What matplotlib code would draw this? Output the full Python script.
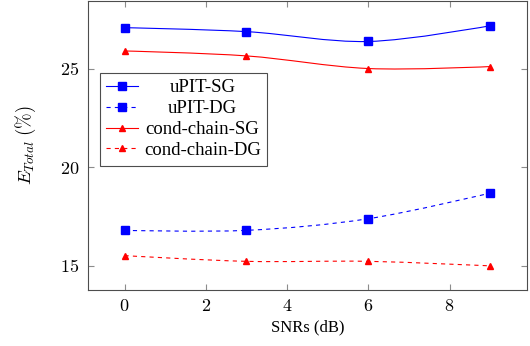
import numpy as np
import matplotlib
matplotlib.use("Agg")
import matplotlib.pyplot as plt
from matplotlib.path import Path
from matplotlib.patches import PathPatch
from matplotlib.lines import Line2D
from matplotlib.transforms import Affine2D

# values
snr = [0, 3, 6, 9]
upit_sg = [27.07, 26.87, 26.37, 27.17]
upit_dg = [16.80, 16.80, 17.39, 18.69]
chain_sg = [25.89, 25.64, 25.00, 25.10]
chain_dg = [15.52, 15.23, 15.23, 15.00]
labels = ["uPIT-SG", "uPIT-DG", "cond-chain-SG", "cond-chain-DG"]

plt.rcParams['font.family'] = ['Liberation Serif', 'DejaVu Serif']
plt.rcParams['mathtext.fontset'] = 'cm'
plt.rcParams['lines.scale_dashes'] = False


def smooth_path(x, y, f=1 / 6):
    # pgfplots-like "smooth": cubic bezier through the points
    p = np.column_stack([x, y]).astype(float)
    n = len(p)
    verts = [p[0]]
    codes = [Path.MOVETO]
    for i in range(n - 1):
        t0 = (p[i + 1] - p[i - 1]) * f if i > 0 else np.zeros(2)
        t1 = (p[i + 2] - p[i]) * f if i + 2 < n else np.zeros(2)
        verts += [p[i] + t0, p[i + 1] - t1, p[i + 1]]
        codes += [Path.CURVE4] * 3
    return Path(verts, codes)


fig = plt.figure(figsize=(5.3, 3.46), dpi=100)
ax = fig.add_axes([0.166, 0.162, 0.828, 0.835])

series = [
    (upit_sg, 'blue', '-', 's', 5.5),
    (upit_dg, 'blue', (0, (3, 3)), 's', 5.5),
    (chain_sg, 'red', '-', '^', 5),
    (chain_dg, 'red', (0, (3, 3)), '^', 5),
]
handles = []
for (vals, col, ls, mk, ms), lab in zip(series, labels):
    ax.add_patch(PathPatch(smooth_path(snr, vals), facecolor='none',
                           edgecolor=col, linestyle=ls, linewidth=0.8))
    ax.plot(snr, vals, linestyle='none', marker=mk, markersize=ms, color=col)
    handles.append(Line2D([], [], color=col, linestyle=ls, linewidth=0.8,
                          marker=mk, markersize=ms, label=lab))

ax.set_xlim(-0.9, 9.9)
ax.set_ylim(13.78, 28.42)
ax.set_xticks([0, 2, 4, 6, 8])
ax.set_yticks([15, 20, 25])
ax.set_xticklabels([f'${v}$' for v in [0, 2, 4, 6, 8]])
ax.set_yticklabels([f'${v}$' for v in [15, 20, 25]])
ax.tick_params(direction='in', top=True, right=True, color='0.55',
               length=4, width=0.8, labelsize=13, pad=6)
for s in ax.spines.values():
    s.set_color('0.3')
    s.set_linewidth(0.8)

ax.set_xlabel('SNRs (dB)', fontsize=12, labelpad=3)
ax.set_ylabel(r'$E_{Total}\;(\%)$', fontsize=13.5, labelpad=16)

leg = ax.legend(handles=handles, loc='upper left',
                bbox_to_anchor=(0.027, 0.752), fontsize=13.5,
                fancybox=False, edgecolor='0.3', framealpha=1,
                handlelength=1.7, borderpad=0.35, labelspacing=0.2,
                handletextpad=0.3, borderaxespad=0)
leg.get_frame().set_linewidth(0.8)

# centre the legend texts in their column, like pgfplots does
fig.canvas.draw()
r = fig.canvas.get_renderer()
widths = [t.get_window_extent(r).width for t in leg.get_texts()]
for t, w in zip(leg.get_texts(), widths):
    t.set_transform(t.get_transform() + Affine2D().translate((max(widths) - w) / 2, 0))

fig.savefig('out.png', dpi=100)
